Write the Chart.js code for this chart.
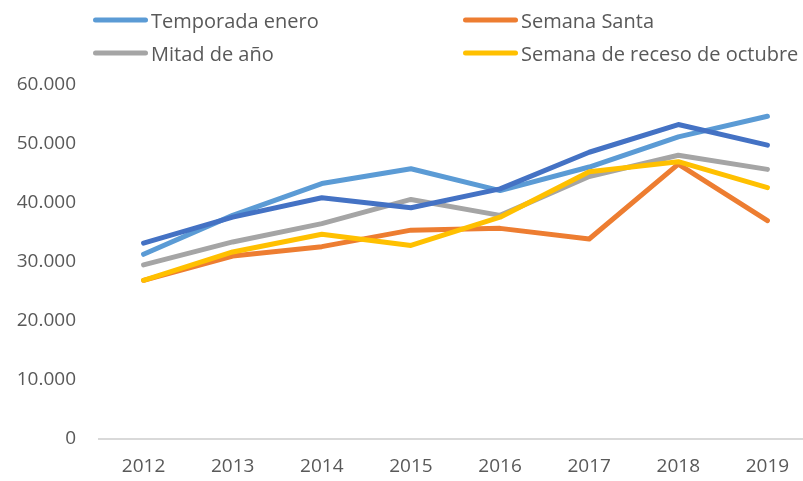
<!DOCTYPE html>
<html>
<head>
<meta charset="utf-8">
<script src="https://cdn.jsdelivr.net/npm/chart.js@4/dist/chart.umd.min.js"></script>
<style>
  html, body { margin: 0; padding: 0; background: #fff; overflow: hidden; }
  #wrap { position: relative; width: 812px; height: 481px; }
  .legend { position: absolute; left: 0; top: 0; font-family: 'Open Sans', sans-serif; font-size: 20px; color: #595959; }
  .item { position: absolute; display: flex; align-items: center; white-space: nowrap; transform: translateY(-50%); }
  .swatch { width: 55px; height: 5px; border-radius: 3px; margin-right: 3px; }
</style>
</head>
<body>
<div id="wrap">
  <canvas id="chart"></canvas>
  <div class="legend" id="legend"></div>
</div>
<script>
const years = ['2012', '2013', '2014', '2015', '2016', '2017', '2018', '2019']

const temporadaEnero = [31300, 37900, 43300, 45800, 42100, 46100, 51200, 54700]
const semanaSanta = [26900, 31000, 32600, 35400, 35700, 33900, 46600, 37000]
const mitadDeAnio = [29500, 33400, 36500, 40600, 37900, 44500, 48100, 45700]
const recesoOctubre = [26900, 31700, 34700, 32800, 37600, 45300, 47000, 42600]
const otraSerie = [33200, 37600, 40900, 39200, 42400, 48600, 53300, 49800]

const seriesNames = ['Temporada enero', 'Semana Santa', 'Mitad de año', 'Semana de receso de octubre', 'Total']
const seriesColors = ['#5B9BD5', '#ED7D31', '#A5A5A5', '#FFC000', '#4472C4']
const seriesValues = [temporadaEnero, semanaSanta, mitadDeAnio, recesoOctubre, otraSerie]

const textColor = '#595959'
const font = { family: "'Open Sans', sans-serif", size: 19 }

const formatThousands = (value) => {
  return String(value).replace(/\B(?=(\d{3})+(?!\d))/g, '.')
}

const datasets = seriesValues.map((values, i) => {
  return {
    label: seriesNames[i],
    data: values,
    borderColor: seriesColors[i],
    backgroundColor: seriesColors[i],
    borderWidth: 5,
    borderCapStyle: 'round',
    borderJoinStyle: 'round',
    pointRadius: 0,
    tension: 0,
    // later series drawn on top, like the spreadsheet
    order: seriesValues.length - i
  }
})

const config = {
  type: 'line',
  data: { labels: years, datasets },
  options: {
    responsive: true,
    maintainAspectRatio: false,
    animation: false,
    layout: { padding: { top: 85, left: 0, right: 0, bottom: 0 } },
    plugins: {
      legend: { display: false },
      tooltip: { enabled: false }
    },
    scales: {
      x: {
        offset: true,
        grid: { display: false, drawTicks: false },
        border: { display: true, color: '#D9D9D9', width: 2 },
        ticks: { color: textColor, font, padding: 16, maxRotation: 0 },
        afterFit: (scale) => { scale.height = 42 }
      },
      y: {
        min: 0,
        max: 60000,
        grid: { display: false, drawTicks: false },
        border: { display: false },
        ticks: {
          stepSize: 10000,
          color: textColor,
          font,
          padding: 23,
          callback: (value) => formatThousands(value)
        },
        afterFit: (scale) => { scale.width = 99 }
      }
    }
  }
}

new Chart(document.getElementById('chart').getContext('2d'), config)

// legend in two columns, only the first four series
const legendSpots = [
  { x: 93, y: 20 },
  { x: 463, y: 20 },
  { x: 93, y: 53 },
  { x: 463, y: 53 }
]
const legend = document.getElementById('legend')
legendSpots.forEach((spot, i) => {
  const item = document.createElement('div')
  item.className = 'item'
  item.style.left = spot.x + 'px'
  item.style.top = spot.y + 'px'
  const swatch = document.createElement('span')
  swatch.className = 'swatch'
  swatch.style.background = seriesColors[i]
  const label = document.createElement('span')
  label.textContent = seriesNames[i]
  item.appendChild(swatch)
  item.appendChild(label)
  legend.appendChild(item)
})
</script>
</body>
</html>
